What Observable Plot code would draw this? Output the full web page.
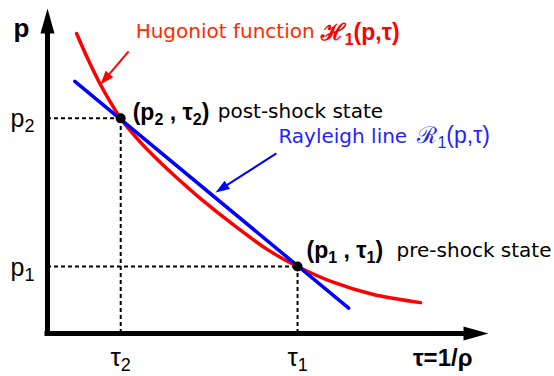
<!DOCTYPE html>
<html><head><meta charset="utf-8">
<script src="https://cdn.jsdelivr.net/npm/d3@7"></script>
<script src="https://cdn.jsdelivr.net/npm/@observablehq/plot@0.6"></script>
<style>body{margin:0;background:#fff}</style>
</head><body><div id="chart"></div>
<script>
// ---- data ----
const tauDomain = [0, 1];
const pDomain = [0, 1];
const hugoniotTau = [0.066, 0.091, 0.120, 0.143, 0.166, 0.211, 0.256, 0.295, 0.347, 0.422, 0.499, 0.567, 0.649, 0.739, 0.846];
const hugoniotP   = [0.923, 0.846, 0.766, 0.711, 0.662, 0.588, 0.526, 0.477, 0.415, 0.334, 0.258, 0.206, 0.157, 0.120, 0.095];
const rayleighTau = [0.062, 0.683];
const rayleighP   = [0.776, 0.078];
const stateTau = [0.166, 0.567];
const stateP   = [0.662, 0.206];
const stateLabels = ["(p_2 , τ_2)", "(p_1 , τ_1)"];
const stateNames  = ["post-shock state", "pre-shock state"];
const tauTickLabels = ["τ_2", "τ_1"];
const pTickLabels = ["p_2", "p_1"];
const axisTitles = ["τ=1/ρ", "p"];
const curveNames = ["Hugoniot function", "Rayleigh line"];
const curveSymbols = ["ℋ_1(p,τ)", "ℛ_1(p,τ)"];
const pointerTail = [[0.184, 0.868], [0.519, 0.554]];
const pointerTip  = [[0.120, 0.766], [0.381, 0.434]];

// ---- layout ----
const W = 554, H = 376, mL = 47, mR = 66, mT = 8, mB = 43;
const kx = (W - mL - mR) / (tauDomain[1] - tauDomain[0]);
const ky = (H - mT - mB) / (pDomain[1] - pDomain[0]);
const AX_HEAD = 25, AX_HALF = 7, PT_HEAD = 14, PT_HALF = 5;
const RED = "#ff0000", RED_TXT = "#ff2a00", BLUE = "#0000ff", BLUE_TXT = "#1f1fff";
const WORD_FONT = "DejaVu Sans", MATH_FONT = "Liberation Sans";

function head(len, half, ang) {
  const c = Math.cos(ang), s = Math.sin(ang);
  const pt = (u, v) => [u * c - v * s, u * s + v * c];
  return {draw(ctx) {
    const a = pt(0, 0), b = pt(-len, half), d = pt(-len, -half);
    ctx.moveTo(a[0], a[1]); ctx.lineTo(b[0], b[1]); ctx.lineTo(d[0], d[1]); ctx.closePath();
  }};
}

const hug = hugoniotTau.map((t, i) => ({tau: t, p: hugoniotP[i]}));
const ray = rayleighTau.map((t, i) => ({tau: t, p: rayleighP[i]}));
const states = stateTau.map((t, i) => ({tau: t, p: stateP[i], label: stateLabels[i], name: stateNames[i], tt: tauTickLabels[i], pt: pTickLabels[i]}));
const pointers = pointerTail.map((a, i) => {
  const b = pointerTip[i];
  const dx = (b[0] - a[0]) * kx, dy = -(b[1] - a[1]) * ky;
  const L = Math.hypot(dx, dy), f = (L - PT_HEAD * 0.6) / L;
  return {x1: a[0], y1: a[1], x2: b[0], y2: b[1], sx: a[0] + (b[0] - a[0]) * f, sy: a[1] + (b[1] - a[1]) * f,
          ang: Math.atan2(dy, dx), name: curveNames[i], sym: curveSymbols[i]};
});

const txt = (data, o) => Plot.text(data, Object.assign({lineAnchor: "bottom", stroke: null}, o));

const chart = Plot.plot({
  width: W, height: H,
  marginLeft: mL, marginRight: mR, marginTop: mT, marginBottom: mB,
  x: {domain: tauDomain, axis: null},
  y: {domain: pDomain, axis: null},
  marks: [
    // dotted guide lines
    Plot.ruleY(states, {y: "p", x1: tauDomain[0], x2: "tau", stroke: "black", strokeWidth: 2, strokeDasharray: "4,3"}),
    Plot.ruleX(states, {x: "tau", y1: pDomain[0], y2: "p", stroke: "black", strokeWidth: 2, strokeDasharray: "4,3"}),
    // axes
    Plot.ruleX([tauDomain[0]], {x: d => d, y1: pDomain[0], y2: pDomain[1] - AX_HEAD / ky, stroke: "black", strokeWidth: 5, strokeLinecap: "square"}),
    Plot.ruleY([pDomain[0]], {y: d => d, x1: tauDomain[0], x2: tauDomain[1] - AX_HEAD / kx, stroke: "black", strokeWidth: 5, strokeLinecap: "square"}),
    Plot.dot([0], {x: () => tauDomain[1], y: () => pDomain[0], symbol: head(AX_HEAD, AX_HALF, 0), fill: "black", stroke: "none"}),
    Plot.dot([0], {x: () => tauDomain[0], y: () => pDomain[1], symbol: head(AX_HEAD, AX_HALF, -Math.PI / 2), fill: "black", stroke: "none"}),
    // curves
    Plot.line(hug, {x: "tau", y: "p", curve: "catmull-rom", stroke: RED, strokeWidth: 3.5}),
    Plot.line(ray, {x: "tau", y: "p", stroke: BLUE, strokeWidth: 3.5}),
    // pointer arrows
    Plot.link([pointers[0]], {x1: "x1", y1: "y1", x2: "sx", y2: "sy", stroke: RED, strokeWidth: 2}),
    Plot.dot([pointers[0]], {x: "x2", y: "y2", symbol: head(PT_HEAD, PT_HALF, pointers[0].ang), fill: RED, stroke: "none"}),
    Plot.link([pointers[1]], {x1: "x1", y1: "y1", x2: "sx", y2: "sy", stroke: BLUE, strokeWidth: 2}),
    Plot.dot([pointers[1]], {x: "x2", y: "y2", symbol: head(PT_HEAD, PT_HALF, pointers[1].ang), fill: BLUE, stroke: "none"}),
    // state points
    Plot.dot(states, {x: "tau", y: "p", r: 5, fill: "black", stroke: "none"}),
    // axis titles
    txt([axisTitles[0]], {x: () => tauDomain[1], y: () => pDomain[0], text: d => d, textAnchor: "end", dx: -16, dy: 32, fontFamily: MATH_FONT, fontSize: 24, fontWeight: "bold"}),
    txt([axisTitles[1]], {x: () => tauDomain[0], y: () => pDomain[1], text: d => d, textAnchor: "middle", dx: -26, dy: 28, fontFamily: MATH_FONT, fontSize: 26, fontWeight: "bold"}),
    // tick labels
    txt(states, {x: "tau", y: () => pDomain[0], text: "tt", textAnchor: "middle", dy: 32, fontFamily: MATH_FONT, fontSize: 26}),
    txt(states, {x: () => tauDomain[0], y: "p", text: "pt", textAnchor: "end", dx: -13, dy: 9, fontFamily: MATH_FONT, fontSize: 25}),
    // state annotations
    txt([states[0]], {x: "tau", y: "p", text: "label", textAnchor: "start", dx: 12, dy: 2, fontFamily: MATH_FONT, fontSize: 23, fontWeight: "bold"}),
    txt([states[0]], {x: "tau", y: "p", text: "name", textAnchor: "start", dx: 97, dy: 0, fontFamily: WORD_FONT, fontSize: 20}),
    txt([states[1]], {x: "tau", y: "p", text: "label", textAnchor: "start", dx: 9, dy: -9, fontFamily: MATH_FONT, fontSize: 23, fontWeight: "bold"}),
    txt([states[1]], {x: "tau", y: "p", text: "name", textAnchor: "start", dx: 99, dy: -10, fontFamily: WORD_FONT, fontSize: 20}),
    // curve annotations
    txt([pointers[0]], {x: "x1", y: "y1", text: "name", textAnchor: "start", dx: 7, dy: -13, fill: RED_TXT, fontFamily: WORD_FONT, fontSize: 20}),
    txt([pointers[0]], {x: "x1", y: "y1", text: "sym", textAnchor: "start", dx: 192, dy: -11, fill: RED, fontFamily: MATH_FONT, fontSize: 23, fontWeight: "bold"}),
    txt([pointers[1]], {x: "x1", y: "y1", text: "name", textAnchor: "start", dx: 2, dy: -10, fill: BLUE_TXT, fontFamily: WORD_FONT, fontSize: 20}),
    txt([pointers[1]], {x: "x1", y: "y1", text: "sym", textAnchor: "start", dx: 141, dy: -10, fill: BLUE_TXT, fontFamily: MATH_FONT, fontSize: 23})
  ]
});
document.getElementById("chart").appendChild(chart);

// subscripts: "_d" -> lowered smaller tspan
const NS = "http://www.w3.org/2000/svg";
chart.querySelectorAll("text").forEach(t => {
  const s = t.textContent;
  if (!s.includes("_")) return;
  const fs = parseFloat(getComputedStyle(t).fontSize) || 20;
  const shift = Math.floor(fs * 0.23);
  const parts = s.split(/_(\S)/);
  t.textContent = "";
  let shifted = false;
  parts.forEach((p, i) => {
    if (i % 2 === 1) {
      const ts = document.createElementNS(NS, "tspan");
      ts.setAttribute("dy", shift);
      ts.setAttribute("font-size", Math.round(fs * 0.7));
      ts.textContent = p;
      t.appendChild(ts);
      shifted = true;
    } else if (p) {
      const ts = document.createElementNS(NS, "tspan");
      if (shifted) ts.setAttribute("dy", -shift);
      ts.textContent = p;
      t.appendChild(ts);
      shifted = false;
    }
  });
});
</script>
</body></html>
